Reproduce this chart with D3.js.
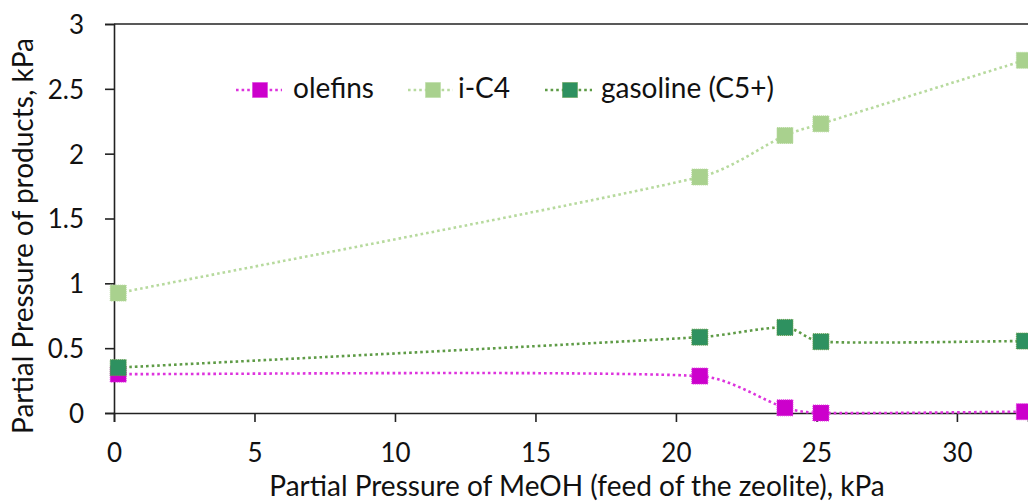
<!DOCTYPE html>
<html>
<head>
<meta charset="utf-8">
<script src="https://cdn.jsdelivr.net/npm/d3@7"></script>
<style>
  html, body { margin: 0; padding: 0; background: #fff; }
  svg { display: block; }
  text { font-family: Lato, "Open Sans", sans-serif; fill: #111; }
</style>
</head>
<body>
<svg id="chart" width="1028" height="501"></svg>
<script>
// MeOH feed partial pressure (kPa)
const feedPressure = [0.15, 20.85, 23.88, 25.16, 32.4];
// Product partial pressures (kPa)
const olefins  = [0.30, 0.285, 0.04, 0.00, 0.01];
const iC4      = [0.925, 1.82, 2.14, 2.23, 2.72];
const gasoline = [0.35, 0.585, 0.66, 0.55, 0.555];

const xTicks = [0, 5, 10, 15, 20, 25, 30];
const yTicks = [0, 0.5, 1, 1.5, 2, 2.5, 3];
const yTickLabels = ["0", "0.5", "1", "1.5", "2", "2.5", "3"];

const seriesNames = ["olefins", "i-C4", "gasoline (C5+)"];
const seriesValues = [olefins, iC4, gasoline];
const markerColors = ["#CC00CC", "#A9D18E", "#2E9160"];
const lineColors   = ["#DD33DD", "#B7DA9E", "#5E9B46"];

const svg = d3.select("#chart");
const plot = { left: 114, right: 1028, top: 24, bottom: 413 };

const x = d3.scaleLinear().domain([0, 32.53]).range([plot.left, plot.right]);
const y = d3.scaleLinear().domain([0, 3]).range([plot.bottom, plot.top]);

// frame line along the top of the plot area
svg.append("line")
  .attr("x1", plot.left).attr("x2", plot.right)
  .attr("y1", y(3)).attr("y2", y(3))
  .attr("stroke", "#222").attr("stroke-width", 1.6);

// y axis
const yAxis = svg.append("g")
  .attr("transform", `translate(${plot.left},0)`)
  .call(d3.axisLeft(y).tickValues(yTicks).tickSize(9).tickPadding(21)
    .tickFormat((d, i) => yTickLabels[i]));

// x axis
const xAxis = svg.append("g")
  .attr("transform", `translate(0,${plot.bottom})`)
  .call(d3.axisBottom(x).tickValues(xTicks).tickSize(9).tickPadding(22)
    .tickFormat(d3.format("d")));

[yAxis, xAxis].forEach(g => {
  g.select(".domain").attr("stroke", "#222").attr("stroke-width", 1.6);
  g.selectAll(".tick line").attr("stroke", "#222").attr("stroke-width", 1.6);
  g.selectAll(".tick text")
    .style("font-family", "Lato, 'Open Sans', sans-serif")
    .style("font-size", "26px").attr("fill", "#111");
});
yAxis.selectAll(".tick text").attr("dy", "0.36em");

// axis titles
svg.append("text")
  .attr("x", 577).attr("y", 496)
  .attr("text-anchor", "middle")
  .style("font-size", "28px")
  .text("Partial Pressure of MeOH (feed of the zeolite), kPa");

svg.append("text")
  .attr("transform", `translate(33,236) rotate(-90)`)
  .attr("text-anchor", "middle")
  .style("font-size", "28px")
  .text("Partial Pressure of products, kPa");

// Smoothed line: Bezier segments whose control arms follow the neighbour
// chord (P[i+1] - P[i-1]) / 6, with each arm capped at a third of the
// segment it belongs to so short segments do not overshoot.
function smoothPath(pts) {
  const n = pts.length;
  const tan = pts.map((p, i) => {
    const a = pts[Math.max(0, i - 1)], b = pts[Math.min(n - 1, i + 1)];
    return [(b[0] - a[0]) / 6, (b[1] - a[1]) / 6];
  });
  const arm = (t, segLen) => {
    const len = Math.hypot(t[0], t[1]);
    const cap = segLen / 3;
    const k = len > cap && len > 0 ? cap / len : 1;
    return [t[0] * k, t[1] * k];
  };
  const p = d3.path();
  p.moveTo(pts[0][0], pts[0][1]);
  for (let i = 0; i < n - 1; i++) {
    const a = pts[i], b = pts[i + 1];
    const seg = Math.hypot(b[0] - a[0], b[1] - a[1]);
    const t0 = arm(tan[i], seg), t1 = arm(tan[i + 1], seg);
    p.bezierCurveTo(a[0] + t0[0], a[1] + t0[1], b[0] - t1[0], b[1] - t1[1], b[0], b[1]);
  }
  return p.toString();
}

const ms = 16; // marker size

// olefins first, gasoline last so it sits on top
seriesValues.forEach((vals, i) => {
  const pts = feedPressure.map((xv, j) => [xv, vals[j]]);
  svg.append("path")
    .attr("d", smoothPath(pts.map(d => [x(d[0]), y(d[1])])))
    .attr("fill", "none")
    .attr("stroke", lineColors[i])
    .attr("stroke-width", 2.6)
    .attr("stroke-dasharray", "2.6 3");

  svg.append("g").selectAll("rect")
    .data(pts)
    .join("rect")
    .attr("x", d => x(d[0]) - ms / 2)
    .attr("y", d => y(d[1]) - ms / 2)
    .attr("width", ms).attr("height", ms)
    .attr("fill", markerColors[i])
    .attr("stroke", lineColors[i])
    .attr("stroke-width", 1)
    .attr("stroke-dasharray", "1 1");
});

// legend
const legendItems = [
  { cx: 260, x1: 236, x2: 282, tx: 293 },
  { cx: 433, x1: 408, x2: 453, tx: 458 },
  { cx: 570, x1: 545, x2: 592, tx: 601 }
];
const legendY = 90;
const lms = 15;
legendItems.forEach((p, i) => {
  const g = svg.append("g");
  g.append("line")
    .attr("x1", p.x1).attr("x2", p.x2)
    .attr("y1", legendY).attr("y2", legendY)
    .attr("stroke", lineColors[i])
    .attr("stroke-width", 2.6)
    .attr("stroke-dasharray", "2.6 3");
  g.append("rect")
    .attr("x", p.cx - lms / 2).attr("y", legendY - lms / 2)
    .attr("width", lms).attr("height", lms)
    .attr("fill", markerColors[i])
    .attr("stroke", lineColors[i])
    .attr("stroke-width", 1)
    .attr("stroke-dasharray", "1 1");
  g.append("text")
    .attr("x", p.tx).attr("y", 98)
    .style("font-size", "28px")
    .text(seriesNames[i]);
});
</script>
</body>
</html>
